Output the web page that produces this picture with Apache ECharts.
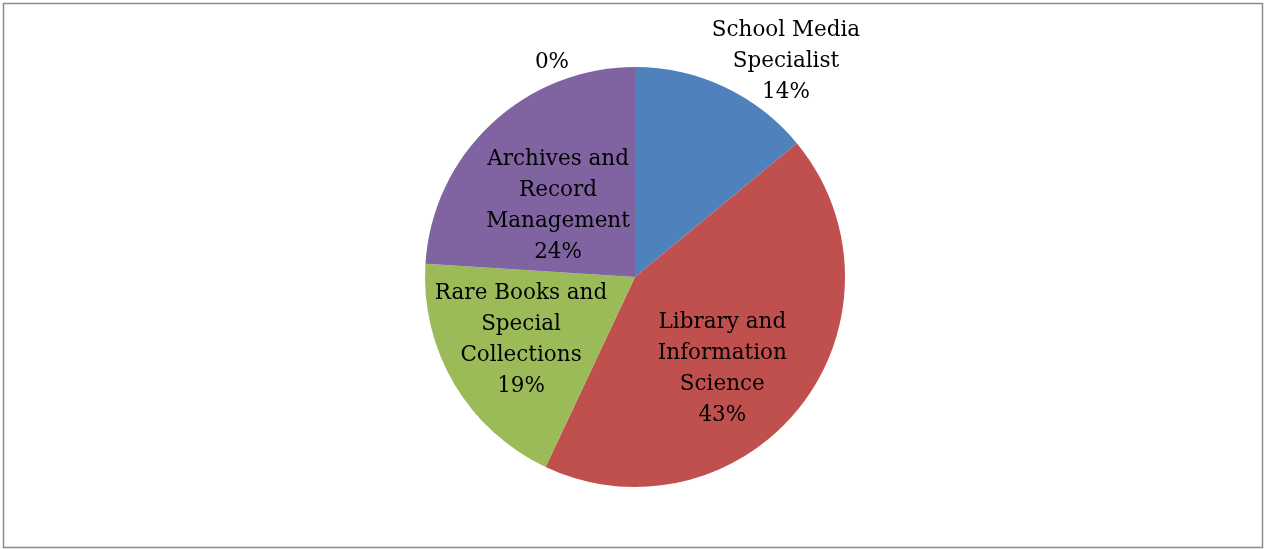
<!DOCTYPE html>
<html>
<head>
<meta charset="utf-8">
<script src="https://cdn.jsdelivr.net/npm/echarts@6/dist/echarts.min.js"></script>
<style>
html,body{margin:0;padding:0;background:#fff;}
#chart{width:1265px;height:549px;}
</style>
</head>
<body>
<div id="chart"></div>
<script>
const categories = [
  'School Media\nSpecialist',
  'Library and\nInformation\nScience',
  'Rare Books and\nSpecial\nCollections',
  'Archives and\nRecord\nManagement',
  ''
];
const values = [14, 43, 19, 24, 0];
const colors = ['#4F81BD', '#C0504D', '#9BBB59', '#8064A2', '#F79646'];
const labelOffsets = [[105, -118], [2, 26], [-21, 8], [-3, 8], [-83, -107]];

const chart = echarts.init(document.getElementById('chart'), null, {renderer: 'canvas'});
const total = values.reduce((a, b) => a + b, 0);
chart.setOption({
  animation: false,
  graphic: [{
    type: 'rect',
    shape: {x: 3.5, y: 3.5, width: 1259, height: 544},
    style: {fill: 'none', stroke: '#8c8c8c', lineWidth: 1.5},
    silent: true
  }],
  series: [{
    type: 'pie',
    center: [635, 277],
    radius: 210,
    startAngle: 90,
    clockwise: true,
    avoidLabelOverlap: false,
    minShowLabelAngle: 0,
    itemStyle: {borderWidth: 0},
    labelLine: {show: false},
    label: {
      position: 'inside',
      fontFamily: 'DejaVu Serif',
      fontSize: 21.5,
      lineHeight: 31,
      color: '#000',
      align: 'center',
      formatter: p => {
        const pct = Math.round(p.value / total * 100) + '%';
        return p.name ? p.name + '\n' + pct : pct;
      }
    },
    data: categories.map((c, i) => ({
      name: c,
      value: values[i],
      itemStyle: {color: colors[i]},
      label: {offset: labelOffsets[i]}
    }))
  }]
});
</script>
</body>
</html>
